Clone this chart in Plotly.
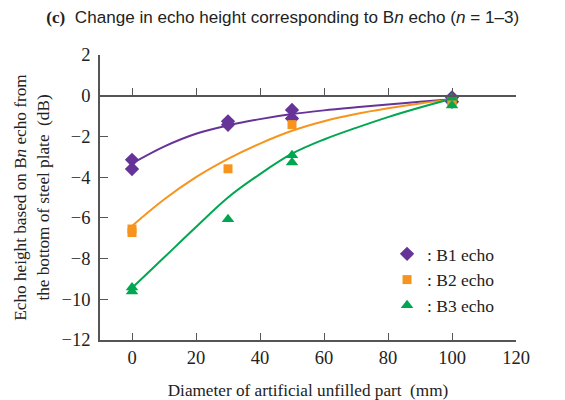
import plotly.graph_objects as go

# measured points
b1_x = [0, 0, 30, 30, 50, 50, 100, 100]
b1_y = [-3.15, -3.6, -1.26, -1.43, -0.7, -1.12, -0.08, -0.3]
b2_x = [0, 0, 30, 50, 100, 100]
b2_y = [-6.55, -6.72, -3.59, -1.42, -0.2, -0.32]
b3_x = [0, 0, 30, 50, 50, 100, 100]
b3_y = [-9.42, -9.62, -6.07, -2.92, -3.28, -0.1, -0.48]

# fitted curves
curve_x = [0, 10, 20, 30, 40, 50, 60, 70, 80, 90, 100]
b1_curve = [-3.33, -2.5, -1.87, -1.46, -1.15, -0.9, -0.72, -0.57, -0.43, -0.3, -0.17]
b2_curve = [-6.4, -5.1, -4.0, -3.1, -2.35, -1.72, -1.25, -0.9, -0.62, -0.38, -0.18]
b3_curve = [-9.45, -7.95, -6.45, -5.0, -3.85, -2.85, -2.15, -1.58, -1.05, -0.58, -0.15]

names = [": B1 echo", ": B2 echo", ": B3 echo"]
colors = ["#663399", "#f7941d", "#00a650"]
symbols = ["diamond", "square", "triangle-up"]
sizes = [11, 9, 11]

serif = "Liberation Serif"

fig = go.Figure()
for cy, col in zip([b1_curve, b2_curve, b3_curve], colors):
    fig.add_trace(go.Scatter(x=curve_x, y=cy, mode="lines", line=dict(color=col, width=2, shape="spline"),
                             showlegend=False, hoverinfo="skip"))
for px, py, nm, col, sym, sz in zip([b1_x, b2_x, b3_x], [b1_y, b2_y, b3_y], names, colors, symbols, sizes):
    fig.add_trace(go.Scatter(x=px, y=py, mode="markers", name=nm,
                             marker=dict(color=col, symbol=sym, size=sz, line=dict(width=0))))
# invisible trace for y=0 axis line
fig.add_trace(go.Scatter(x=[0], y=[0], xaxis="x2", mode="markers", marker=dict(opacity=0),
                         showlegend=False, hoverinfo="skip"))

tick_font = dict(family=serif, size=18.5, color="#222")
title_font = dict(family=serif, size=17.2, color="#222")
fig.update_layout(
    width=565, height=400,
    margin=dict(l=100, r=49, t=55, b=60, autoexpand=False),
    paper_bgcolor="white", plot_bgcolor="white",
    title=dict(
        text="<span style='font-family:Liberation Serif'><b>(c)</b></span>  Change in echo height corresponding to B<i>n</i> echo (<i>n</i> = 1–3)",
        font=dict(family="Liberation Sans", size=17.1, color="#222"),
        x=0.082, xanchor="left", y=0.957, yanchor="middle", automargin=False),
    xaxis=dict(range=[-10, 120], tickvals=[0, 20, 40, 60, 80, 100, 120], ticks="inside", ticklen=7,
               tickcolor="#555", showline=True, linecolor="#555", linewidth=1.5, showgrid=False,
               zeroline=False, tickfont=tick_font, automargin=False,
               title=dict(text="Diameter of artificial unfilled part  (mm)", font=title_font, standoff=17)),
    xaxis2=dict(range=[-10, 120], tickvals=[0, 20, 40, 60, 80, 100, 120], overlaying="x", anchor="free",
                position=12 / 14, side="bottom", ticks="inside", ticklen=7, tickcolor="#555",
                showline=True, linecolor="#555", linewidth=1.5, showticklabels=False, showgrid=False,
                zeroline=False, automargin=False),
    yaxis=dict(range=[-12, 2], tickvals=[-12, -10, -8, -6, -4, -2, 0, 2], ticks="inside", ticklen=8,
               tickcolor="#555", showline=True, linecolor="#555", linewidth=1.5, showgrid=False,
               zeroline=False, tickfont=tick_font, ticklabelstandoff=4, automargin=False,
               title=dict(text="Echo height based on B<i>n</i> echo from<br>the bottom of steel plate  (dB)",
                          font=title_font, standoff=8)),
    legend=dict(x=0.69, y=0.365, xanchor="left", yanchor="top", bgcolor="rgba(0,0,0,0)",
                font=dict(family=serif, size=17.5, color="#222"), itemwidth=30, tracegroupgap=0),
    showlegend=True,
)
fig.write_html("out.html")
